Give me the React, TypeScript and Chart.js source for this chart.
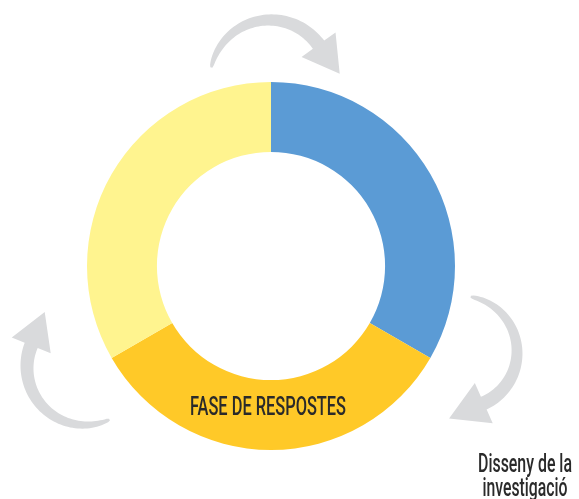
import React, { useEffect, useRef } from "react";
import { Chart, registerables } from "chart.js";

Chart.register(...registerables);

const labels = ["Disseny de la investigació", "Fase de respostes", "Anàlisi"];
const values = [1, 1, 1];
const colors = ["#5B9BD5", "#FFC928", "#FFF48F"];
const innerLabel = "FASE DE RESPOSTES";
const outerLabelLines = ["Disseny de la", "investigació"];

type ArrowSpec = {
  cx: number; cy: number; r: number; a0: number; a1: number;
  w0: number; w1: number; headLen: number; headHalf: number;
};

const arrows: ArrowSpec[] = [
  { cx: 270, cy: 80, r: 60, a0: -168, a1: -36, w0: 2, w1: 14, headLen: 36, headHalf: 21 },
  { cx: 461, cy: 352, r: 56, a0: -80, a1: 66, w0: 2, w1: 14, headLen: 38, headHalf: 22 },
  { cx: 85, cy: 367, r: 58, a0: 65, a1: 202, w0: 2, w1: 14, headLen: 36, headHalf: 21 },
];

function drawArrow(ctx: CanvasRenderingContext2D, a: ArrowSpec) {
  const d = Math.PI / 180;
  const N = 60;
  const outer: [number, number][] = [];
  const inner: [number, number][] = [];
  for (let i = 0; i <= N; i++) {
    const t = i / N;
    const ang = (a.a0 + (a.a1 - a.a0) * t) * d;
    const w = a.w0 + (a.w1 - a.w0) * Math.pow(t, 0.5);
    outer.push([a.cx + (a.r + w / 2) * Math.cos(ang), a.cy + (a.r + w / 2) * Math.sin(ang)]);
    inner.push([a.cx + (a.r - w / 2) * Math.cos(ang), a.cy + (a.r - w / 2) * Math.sin(ang)]);
  }
  const ae = a.a1 * d;
  const mx = a.cx + a.r * Math.cos(ae);
  const my = a.cy + a.r * Math.sin(ae);
  const nx = Math.cos(ae), ny = Math.sin(ae);
  const tx = -Math.sin(ae), ty = Math.cos(ae);
  ctx.beginPath();
  ctx.moveTo(outer[0][0], outer[0][1]);
  for (const p of outer) ctx.lineTo(p[0], p[1]);
  ctx.lineTo(mx + nx * a.headHalf, my + ny * a.headHalf);
  ctx.lineTo(mx + tx * a.headLen, my + ty * a.headLen);
  ctx.lineTo(mx - nx * a.headHalf, my - ny * a.headHalf);
  for (let i = inner.length - 1; i >= 0; i--) ctx.lineTo(inner[i][0], inner[i][1]);
  ctx.closePath();
  ctx.fillStyle = "#D9DADC";
  ctx.fill();
}

function drawCondensed(ctx: CanvasRenderingContext2D, text: string, x: number, y: number, targetW: number) {
  ctx.save();
  ctx.font = "500 25px Roboto";
  ctx.fillStyle = "#2A2A2A";
  ctx.textAlign = "center";
  ctx.textBaseline = "alphabetic";
  const w = ctx.measureText(text).width;
  const s = targetW / w;
  ctx.translate(x, y);
  ctx.scale(s, 1);
  ctx.fillText(text, 0, 0);
  ctx.restore();
}

const decorPlugin = {
  id: "decor",
  beforeDatasetsDraw(chart: any) {
    const ctx = chart.ctx as CanvasRenderingContext2D;
    ctx.save();
    for (const a of arrows) drawArrow(ctx, a);
    ctx.restore();
  },
  afterDatasetsDraw(chart: any) {
    const ctx = chart.ctx as CanvasRenderingContext2D;
    drawCondensed(ctx, innerLabel, 268, 415, 156);
    drawCondensed(ctx, outerLabelLines[0], 525, 472, 94);
    drawCondensed(ctx, outerLabelLines[1], 525, 496, 85);
  },
};

export default function App() {
  const ref = useRef<HTMLCanvasElement | null>(null);
  useEffect(() => {
    if (!ref.current) return;
    const chart = new Chart(ref.current, {
      type: "doughnut",
      data: {
        labels,
        datasets: [
          {
            data: values,
            backgroundColor: colors,
            borderWidth: 0,
            hoverOffset: 0,
            offset: 0,
          },
        ],
      },
      options: {
        responsive: false,
        animation: false,
        cutout: "62%",
        layout: { padding: { left: 87, right: 124, top: 82, bottom: 49 } },
        plugins: { legend: { display: false }, tooltip: { enabled: false } },
        events: [],
      },
      plugins: [decorPlugin],
    });
    return () => chart.destroy();
  }, []);
  return (
    <div style={{ position: "absolute", left: 0, top: 0, width: 579, height: 499, background: "#fff" }}>
      <canvas ref={ref} width={579} height={499} style={{ display: "block" }} />
    </div>
  );
}
